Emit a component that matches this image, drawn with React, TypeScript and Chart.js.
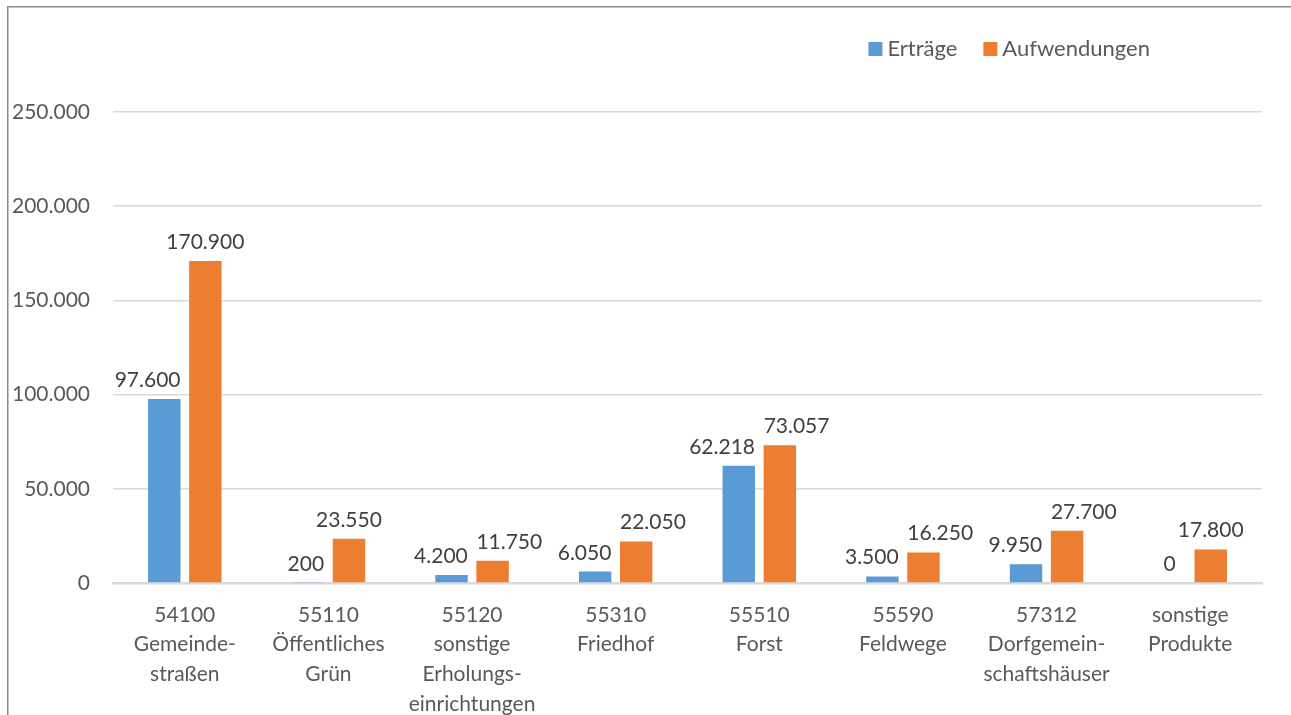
import React, { useEffect, useRef } from "react";
import { Chart, registerables } from "chart.js";

Chart.register(...registerables);

const categories: string[][] = [
  ["54100", "Gemeinde-", "straßen"],
  ["55110", "Öffentliches", "Grün"],
  ["55120", "sonstige", "Erholungs-", "einrichtungen"],
  ["55310", "Friedhof"],
  ["55510", "Forst"],
  ["55590", "Feldwege"],
  ["57312", "Dorfgemein-", "schaftshäuser"],
  ["sonstige", "Produkte"],
];
const seriesNames = ["Erträge", "Aufwendungen"];
const ertraege = [97600, 200, 4200, 6050, 62218, 3500, 9950, 0];
const aufwendungen = [170900, 23550, 11750, 22050, 73057, 16250, 27700, 17800];
const yTicks = [0, 50000, 100000, 150000, 200000, 250000];

const BLUE = "#5B9BD5";
const ORANGE = "#ED7D31";
const FONT = "Lato";
const FS = 21;
const LFS = 22;

const fmt = (v: number) =>
  String(Math.round(v)).replace(/\B(?=(\d{3})+(?!\d))/g, ".");

const framePlugin = {
  id: "frame",
  beforeDraw(chart: any) {
    const ctx = chart.ctx;
    ctx.save();
    ctx.fillStyle = "#ffffff";
    ctx.fillRect(0, 0, chart.width, chart.height);
    ctx.fillStyle = "#8a8a8a";
    ctx.fillRect(7, 6, 1.5, chart.height);
    ctx.fillRect(7, 6, chart.width, 1.5);
    ctx.restore();
  },
};

const legendPlugin = {
  id: "customLegend",
  afterDraw(chart: any) {
    const ctx = chart.ctx;
    ctx.save();
    ctx.font = `${LFS}px ${FONT}`;
    ctx.textBaseline = "alphabetic";
    ctx.textAlign = "left";
    const box = 14;
    const gapBoxText = 5;
    const gapItems = 26;
    const rightEnd = 1150;
    const baseline = 56;
    const items = chart.data.datasets.map((d: any) => ({
      label: d.label,
      color: d.backgroundColor,
      w: ctx.measureText(d.label).width,
    }));
    let total = 0;
    items.forEach((it: any, i: number) => {
      total += box + gapBoxText + it.w + (i > 0 ? gapItems : 0);
    });
    let x = rightEnd - total;
    items.forEach((it: any) => {
      ctx.fillStyle = it.color;
      ctx.fillRect(x, baseline - 14, box, box);
      ctx.fillStyle = "#595959";
      ctx.fillText(it.label, x + box + gapBoxText, baseline);
      x += box + gapBoxText + it.w + gapItems;
    });
    ctx.restore();
  },
};

const valueLabelPlugin = {
  id: "valueLabels",
  afterDatasetsDraw(chart: any) {
    const ctx = chart.ctx;
    const m0 = chart.getDatasetMeta(0);
    const m1 = chart.getDatasetMeta(1);
    const d0 = chart.data.datasets[0].data;
    const d1 = chart.data.datasets[1].data;
    ctx.save();
    ctx.font = `${FS}px ${FONT}`;
    ctx.fillStyle = "#404040";
    ctx.textBaseline = "alphabetic";
    const gap = 12;
    for (let i = 0; i < d0.length; i++) {
      const b0 = m0.data[i];
      const b1 = m1.data[i];
      const t0 = fmt(d0[i]);
      const t1 = fmt(d1[i]);
      const w0 = ctx.measureText(t0).width;
      const w1 = ctx.measureText(t1).width;
      const y0 = b0.y - gap;
      const y1 = b1.y - gap;
      let r0: number;
      if (d0[i] > 0) {
        ctx.textAlign = "right";
        r0 = b0.x + b0.width / 2;
        ctx.fillText(t0, r0, y0);
      } else {
        ctx.textAlign = "center";
        r0 = b0.x + w0 / 2;
        ctx.fillText(t0, b0.x, y0);
      }
      const l1 = b1.x - w1 / 2;
      const collide = l1 < r0 && Math.abs(y0 - y1) < 40;
      if (collide) {
        ctx.textAlign = "left";
        ctx.fillText(t1, b1.x - b1.width / 2, y1);
      } else {
        ctx.textAlign = "center";
        ctx.fillText(t1, b1.x, y1);
      }
    }
    ctx.restore();
  },
};

export default function App() {
  const ref = useRef<HTMLCanvasElement>(null);
  useEffect(() => {
    if (!ref.current) return;
    const chart = new Chart(ref.current, {
      type: "bar",
      data: {
        labels: categories,
        datasets: [
          {
            label: seriesNames[0],
            data: ertraege,
            backgroundColor: BLUE,
            categoryPercentage: 0.572,
            barPercentage: 0.79,
          },
          {
            label: seriesNames[1],
            data: aufwendungen,
            backgroundColor: ORANGE,
            categoryPercentage: 0.572,
            barPercentage: 0.79,
          },
        ],
      },
      options: {
        animation: false,
        responsive: true,
        maintainAspectRatio: false,
        layout: { padding: { top: 112, right: 29, left: 0, bottom: 0 } },
        plugins: {
          legend: { display: false },
          tooltip: { enabled: false },
        },
        scales: {
          x: {
            grid: { display: false, drawTicks: false },
            border: { display: true, color: "#D9D9D9", width: 2.5 },
            ticks: {
              autoSkip: false,
              maxRotation: 0,
              minRotation: 0,
              padding: 17,
              color: "#595959",
              font: { family: FONT, size: FS, lineHeight: 1.42 },
            },
            afterFit(scale: any) {
              scale.height = 132;
            },
          },
          y: {
            min: 0,
            max: 250000,
            afterBuildTicks(scale: any) {
              scale.ticks = yTicks.map((v) => ({ value: v }));
            },
            grid: { color: "#D9D9D9", lineWidth: 1.5, drawTicks: false },
            border: { display: false },
            ticks: {
              padding: 23,
              color: "#595959",
              font: { family: FONT, size: FS },
              callback: (v: any) => fmt(Number(v)),
            },
            afterFit(scale: any) {
              scale.width = 113;
            },
          },
        },
      },
      plugins: [framePlugin, valueLabelPlugin, legendPlugin],
    });
    return () => chart.destroy();
  }, []);
  return (
    <div
      style={{
        position: "absolute",
        left: 0,
        top: 0,
        width: 1291,
        height: 715,
      }}
    >
      <canvas ref={ref} />
    </div>
  );
}
